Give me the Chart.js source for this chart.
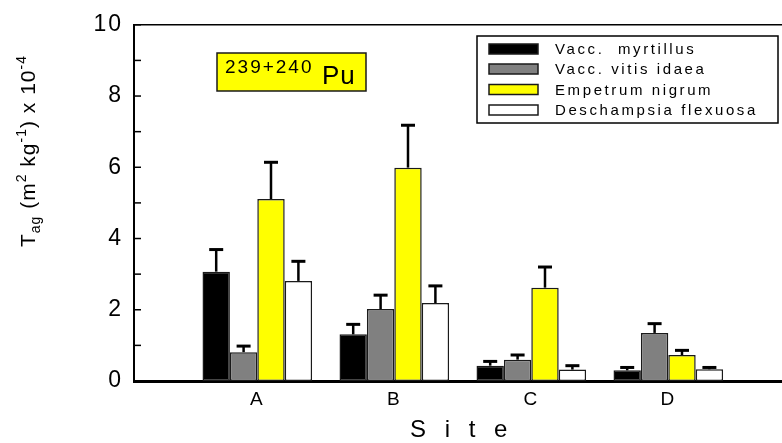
<!DOCTYPE html>
<html>
<head>
<meta charset="utf-8">
<script src="https://cdn.jsdelivr.net/npm/chart.js@4.4.1/dist/chart.umd.min.js"></script>
<style>
  html, body { margin: 0; padding: 0; background: #fff; }
  canvas { display: block; }
</style>
</head>
<body>
<canvas id="c" width="782" height="443"></canvas>
<script>
// Sites and species
const sites = ['A', 'B', 'C', 'D'];
const species = ['Vacc.  myrtillus', 'Vacc. vitis idaea', 'Empetrum nigrum', 'Deschampsia flexuosa'];

// Transfer factors T_ag (x 10^-4) and their upper error
const myrtillus      = [3.07, 1.31, 0.43, 0.30];
const myrtillusErr   = [0.62, 0.28, 0.12, 0.08];
const vitisIdaea     = [0.81, 2.02, 0.60, 1.35];
const vitisIdaeaErr  = [0.17, 0.39, 0.13, 0.26];
const empetrum       = [5.11, 5.99, 2.62, 0.73];
const empetrumErr    = [1.03, 1.19, 0.58, 0.13];
const deschampsia    = [2.81, 2.19, 0.32, 0.33];
const deschampsiaErr = [0.55, 0.48, 0.11, 0.05];

// Labelled y ticks (odd values get an unlabelled minor tick)
const yTickLabels = [0, 2, 4, 6, 8, 10];

const sitePos = sites.map((s, i) => i + 1);
const FONT = '"Liberation Sans", Arial, Helvetica, sans-serif';

function series(values) {
  return values.map((v, i) => ({ x: sitePos[i], y: v }));
}

const fills = ['#000000', '#808080', '#ffff00', '#ffffff'];
const allValues = [myrtillus, vitisIdaea, empetrum, deschampsia];
const allErrors = [myrtillusErr, vitisIdaeaErr, empetrumErr, deschampsiaErr];

const datasets = species.map((name, k) => ({
  label: name,
  data: series(allValues[k]),
  errors: allErrors[k],
  backgroundColor: fills[k],
  borderColor: '#1a1a1a',
  borderWidth: 1.5,
  borderSkipped: false,
  categoryPercentage: 0.8,
  barPercentage: 1.0
}));

// Upper-only error bars with caps
const errorBars = {
  id: 'errorBars',
  afterDatasetsDraw(chart) {
    const ctx = chart.ctx;
    const y = chart.scales.y;
    ctx.save();
    ctx.strokeStyle = '#000';
    chart.data.datasets.forEach((ds, i) => {
      const meta = chart.getDatasetMeta(i);
      meta.data.forEach((bar, j) => {
        const v = ds.data[j].y;
        const top = y.getPixelForValue(v + ds.errors[j]);
        const base = y.getPixelForValue(v);
        ctx.lineWidth = 2.5;
        ctx.beginPath();
        ctx.moveTo(bar.x, base);
        ctx.lineTo(bar.x, top);
        ctx.stroke();
        ctx.lineWidth = 3;
        ctx.beginPath();
        ctx.moveTo(bar.x - 7, top);
        ctx.lineTo(bar.x + 7, top);
        ctx.stroke();
      });
    });
    ctx.restore();
  }
};

// Frame line, inward ticks, axis titles, legend box and nuclide label
const decorations = {
  id: 'decorations',
  beforeDraw(chart) {
    chart.ctx.letterSpacing = '2px';
  },
  afterDraw(chart) {
    const ctx = chart.ctx;
    const area = chart.chartArea;
    const ys = chart.scales.y;
    ctx.save();
    ctx.strokeStyle = '#000';
    ctx.fillStyle = '#000';

    // top frame line
    ctx.lineWidth = 1.5;
    ctx.beginPath();
    ctx.moveTo(area.left, area.top);
    ctx.lineTo(area.right, area.top);
    ctx.stroke();

    // inward tick marks on the y axis
    ctx.lineWidth = 1.5;
    ys.ticks.forEach(t => {
      const py = ys.getPixelForValue(t.value);
      ctx.beginPath();
      ctx.moveTo(area.left, py);
      ctx.lineTo(area.left + 7, py);
      ctx.stroke();
    });

    // y axis title with sub/superscripts
    ctx.save();
    ctx.translate(35, 247);
    ctx.rotate(-Math.PI / 2);
    ctx.letterSpacing = '1px';
    ctx.textBaseline = 'alphabetic';
    ctx.textAlign = 'left';
    const parts = [
      { t: 'T', s: 21, dy: 0 },
      { t: 'ag', s: 14, dy: 5 },
      { t: ' (m', s: 21, dy: 0 },
      { t: '2', s: 14, dy: -9 },
      { t: ' kg', s: 21, dy: 0 },
      { t: '-1', s: 14, dy: -9 },
      { t: ') x 10', s: 21, dy: 0 },
      { t: '-4', s: 14, dy: -9 }
    ];
    let px = 0;
    parts.forEach(p => {
      ctx.font = p.s + 'px ' + FONT;
      ctx.fillText(p.t, px, p.dy);
      px += ctx.measureText(p.t).width;
    });
    ctx.restore();

    // x axis title
    ctx.save();
    ctx.font = '24px ' + FONT;
    ctx.letterSpacing = '6px';
    ctx.textAlign = 'left';
    ctx.textBaseline = 'alphabetic';
    ctx.fillText('S i t e', 410, 437);
    ctx.restore();

    // legend
    ctx.save();
    ctx.lineWidth = 1.5;
    ctx.fillStyle = '#fff';
    ctx.fillRect(477, 36, 301, 87);
    ctx.strokeRect(477, 36, 301, 87);
    const rows = [49, 69, 89.5, 110];
    ctx.font = '15px ' + FONT;
    ctx.letterSpacing = '2.6px';
    ctx.textBaseline = 'middle';
    chart.data.datasets.forEach((ds, i) => {
      const cy = rows[i];
      ctx.fillStyle = ds.backgroundColor;
      ctx.fillRect(489, cy - 5, 49, 10);
      ctx.strokeStyle = '#1a1a1a';
      ctx.lineWidth = 1.5;
      ctx.strokeRect(489, cy - 5, 49, 10);
      ctx.fillStyle = '#000';
      ctx.fillText(ds.label, 555, cy + 1);
    });
    ctx.restore();

    // nuclide label
    ctx.save();
    ctx.fillStyle = '#ffff00';
    ctx.fillRect(217, 53, 149, 38);
    ctx.lineWidth = 1.5;
    ctx.strokeStyle = '#1a1a1a';
    ctx.strokeRect(217, 53, 149, 38);
    ctx.fillStyle = '#000';
    ctx.textBaseline = 'alphabetic';
    ctx.font = '19px ' + FONT;
    ctx.letterSpacing = '2px';
    ctx.fillText('239+240', 225, 73);
    ctx.font = '26px ' + FONT;
    ctx.letterSpacing = '1px';
    ctx.fillText('Pu', 322, 84);
    ctx.restore();

    ctx.restore();
  }
};

new Chart(document.getElementById('c'), {
  type: 'bar',
  data: { datasets },
  plugins: [errorBars, decorations],
  options: {
    responsive: false,
    animation: false,
    devicePixelRatio: 1,
    layout: { padding: { top: 19, right: 0, bottom: 0, left: 0 } },
    plugins: {
      legend: { display: false },
      tooltip: { enabled: false }
    },
    scales: {
      x: {
        type: 'linear',
        offset: false,
        min: 0.1,
        max: 4.83,
        grid: { display: false, drawTicks: false },
        border: { display: true, color: '#000', width: 3 },
        afterBuildTicks(scale) {
          scale.ticks = sitePos.map(v => ({ value: v }));
        },
        afterFit(scale) { scale.height = 62; },
        ticks: {
          color: '#000',
          padding: 7,
          maxRotation: 0,
          font: { family: FONT, size: 19 },
          callback: v => sites[v - 1]
        }
      },
      y: {
        min: 0,
        max: 10,
        grid: { display: false, drawTicks: false },
        border: { display: true, color: '#000', width: 2 },
        afterFit(scale) { scale.width = 134; },
        ticks: {
          stepSize: 1,
          color: '#000',
          padding: 11,
          font: { family: FONT, size: 23 },
          callback: v => (yTickLabels.includes(v) ? String(v) : '')
        }
      }
    }
  }
});
</script>
</body>
</html>
